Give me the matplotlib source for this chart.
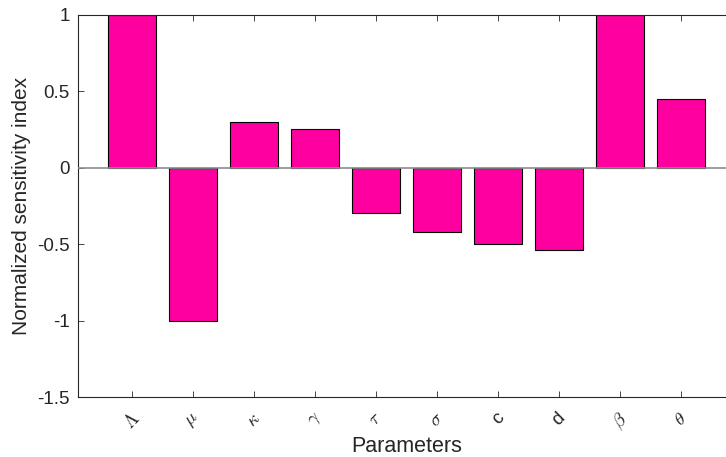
import matplotlib.pyplot as plt

# parametri e indici di sensitività normalizzati
parametri = [r'$\Lambda$', r'$\mu$', r'$\kappa$', r'$\gamma$', r'$\tau$',
             r'$\sigma$', 'c', 'd', r'$\beta$', r'$\theta$']
indici = [1.0, -1.0, 0.30, 0.255, -0.295, -0.42, -0.50, -0.54, 1.0, 0.45]

plt.rcParams['font.family'] = ['Liberation Sans', 'DejaVu Sans']
plt.rcParams['mathtext.fontset'] = 'cm'

fig = plt.figure(figsize=(7.26, 4.57), dpi=100)
# asse un po' più largo della figura: il bordo destro resta tagliato
ax = fig.add_axes([78/726, 60/457, 657/726, 382/457])

x = range(1, len(indici) + 1)
ax.bar(x, indici, width=0.8, color='#ff00a0', edgecolor='black', linewidth=0.8, zorder=2)
ax.axhline(0, color='#8c8c8c', linewidth=1.2, zorder=3)

ax.set_xlim(0.115, 10.885)
ax.set_ylim(-1.5, 1)
ax.set_yticks([-1.5, -1, -0.5, 0, 0.5, 1])
ax.set_yticklabels(['-1.5', '-1', '-0.5', '0', '0.5', '1'])
ax.set_xticks(list(x))
ax.set_xticklabels(parametri, rotation=45, fontsize=13.5)
for lab in ax.get_xticklabels():
    lab.set_color('#262626')

ax.tick_params(direction='in', top=True, right=True, length=4, width=0.6,
               colors='#262626', labelsize=13.5)
ax.tick_params(axis='x', pad=9)
ax.tick_params(axis='y', pad=6)
for s in ax.spines.values():
    s.set_color('#262626')
    s.set_linewidth(0.8)

ax.set_xlabel('Parameters', fontsize=15.5, color='#262626', labelpad=2)
ax.set_ylabel('Normalized sensitivity index', fontsize=15, color='#262626', labelpad=4)

plt.savefig('out.png', dpi=100)
